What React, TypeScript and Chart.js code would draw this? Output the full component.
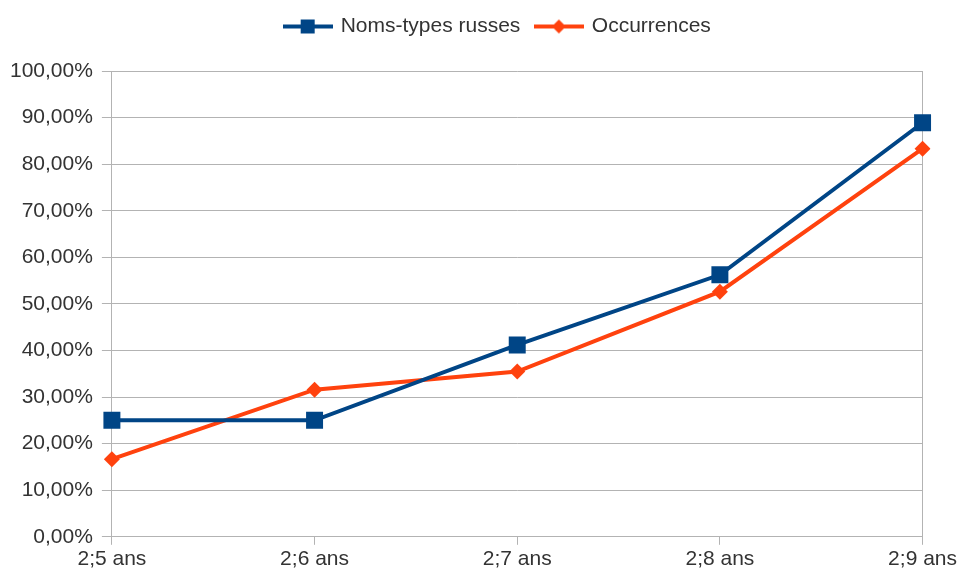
import React, { useEffect, useRef } from "react";
import { Chart, registerables } from "chart.js";

Chart.register(...registerables);

const categories = ["2;5 ans", "2;6 ans", "2;7 ans", "2;8 ans", "2;9 ans"];
const seriesNames = ["Noms-types russes", "Occurrences"];
const nomsTypes = [25.0, 25.0, 41.18, 56.25, 88.89];
const occurrences = [16.67, 31.58, 35.48, 52.63, 83.33];
const yTicksMin = 0;
const yTicksMax = 100;
const yTicksStep = 10;

const BLUE = "#004586";
const ORANGE = "#ff420e";
const GRID = "#b3b3b3";
const FONT = "'Liberation Sans', Arial, sans-serif";

function makeLegendIcon(color: string, shape: "square" | "diamond"): HTMLCanvasElement {
  const c = document.createElement("canvas");
  c.width = 50;
  c.height = 20;
  const ctx = c.getContext("2d")!;
  ctx.strokeStyle = color;
  ctx.lineWidth = 4;
  ctx.beginPath();
  ctx.moveTo(0, 10);
  ctx.lineTo(50, 10);
  ctx.stroke();
  ctx.fillStyle = color;
  if (shape === "square") {
    ctx.fillRect(25 - 7, 10 - 7, 14, 14);
  } else {
    ctx.beginPath();
    ctx.moveTo(25, 3);
    ctx.lineTo(32, 10);
    ctx.lineTo(25, 17);
    ctx.lineTo(18, 10);
    ctx.closePath();
    ctx.fill();
  }
  return c;
}

const legendSpacer = {
  id: "legendSpacer",
  beforeInit(chart: any) {
    const orig = chart.legend.fit;
    chart.legend.fit = function () {
      orig.bind(chart.legend)();
      this.height += 24;
    };
  },
  afterLayout(chart: any) {
    if (chart.legend) chart.legend.left += 36;
  },
};

export default function App() {
  const ref = useRef<HTMLCanvasElement | null>(null);

  useEffect(() => {
    if (!ref.current) return;
    const icons = [makeLegendIcon(BLUE, "square"), makeLegendIcon(ORANGE, "diamond")];
    const chart = new Chart(ref.current, {
      type: "line",
      plugins: [legendSpacer],
      data: {
        labels: categories,
        datasets: [
          {
            label: seriesNames[0],
            data: nomsTypes,
            borderColor: BLUE,
            backgroundColor: BLUE,
            borderWidth: 4,
            pointStyle: "rect",
            pointRadius: 12,
            pointBorderWidth: 0,
            tension: 0,
          },
          {
            label: seriesNames[1],
            data: occurrences,
            borderColor: ORANGE,
            backgroundColor: ORANGE,
            borderWidth: 4,
            pointStyle: "rectRot",
            pointRadius: 8,
            pointBorderWidth: 0,
            tension: 0,
          },
        ],
      },
      options: {
        responsive: false,
        animation: false,
        layout: { padding: { left: 1, right: 0, top: 0, bottom: 1 } },
        plugins: {
          tooltip: { enabled: false },
          legend: {
            position: "top",
            labels: {
              usePointStyle: true,
              pointStyleWidth: 45,
              padding: 16,
              color: "#333333",
              font: { family: FONT, size: 21 },
              generateLabels: (ch: any) =>
                ch.data.datasets.map((ds: any, i: number) => ({
                  text: ds.label,
                  pointStyle: icons[i],
                  fillStyle: ds.borderColor,
                  strokeStyle: ds.borderColor,
                  lineWidth: 0,
                  hidden: false,
                  datasetIndex: i,
                  fontColor: "#333333",
                })),
            },
          },
        },
        scales: {
          x: {
            offset: false,
            grid: {
              offset: false,
              color: (c: any) =>
                c.index === categories.length - 1 ? GRID : "rgba(0,0,0,0)",
              tickColor: GRID,
              tickLength: 8,
              lineWidth: 1,
            },
            border: { display: true, color: GRID },
            ticks: {
              color: "#333333",
              font: { family: FONT, size: 21 },
              padding: 2,
              maxRotation: 0,
              autoSkip: false,
            },
          },
          y: {
            min: yTicksMin,
            max: yTicksMax,
            grid: { color: GRID, tickColor: GRID, tickLength: 10, lineWidth: 1 },
            border: { display: true, color: GRID },
            ticks: {
              stepSize: yTicksStep,
              color: "#333333",
              font: { family: FONT, size: 21 },
              padding: 9,
              callback: (v: any) => Number(v).toFixed(2).replace(".", ",") + "%",
            },
          },
        },
      },
    });
    return () => chart.destroy();
  }, []);

  return (
    <div style={{ position: "fixed", left: 0, top: 0, width: 959, height: 575, background: "#fff" }}>
      <canvas ref={ref} width={959} height={575} style={{ width: 959, height: 575 }} />
    </div>
  );
}
